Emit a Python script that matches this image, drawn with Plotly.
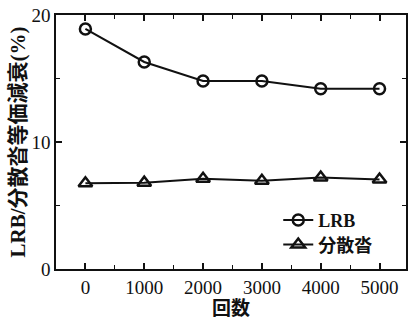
import plotly.graph_objects as go

cycles = [0, 1000, 2000, 3000, 4000, 5000]
lrb = [18.9, 16.3, 14.8, 14.8, 14.2, 14.2]
bunsan = [6.75, 6.8, 7.1, 6.95, 7.2, 7.05]
x_ticks = [0, 1000, 2000, 3000, 4000, 5000]
y_ticks = [0, 10, 20]

serif = "Liberation Serif, Times New Roman, serif"
cjk = "Noto Sans CJK JP, Liberation Serif, serif"
ser_span = "<span style='font-family:Liberation Serif'>{}</span>"

fig = go.Figure()
fig.add_trace(go.Scatter(
    x=cycles, y=lrb, name="<b>" + ser_span.format("LRB") + "</b>", mode="lines+markers",
    line=dict(color="#111111", width=2), legend="legend",
    marker=dict(symbol="circle-open", size=11, color="#111111", line=dict(width=2.5)),
))
fig.add_trace(go.Scatter(
    x=cycles, y=bunsan, name="<b>分散沓</b>", mode="lines+markers",
    line=dict(color="#111111", width=2), legend="legend2",
    marker=dict(symbol="triangle-up-open", size=12, color="#111111", line=dict(width=2.5)),
))

axis_common = dict(
    showline=True, linecolor="#111111", linewidth=1.5, mirror="ticks",
    ticks="inside", tickcolor="#111111", ticklen=6, tickwidth=1.5,
    showgrid=False, zeroline=False, automargin=False,
    tickfont=dict(family=serif, size=19, color="#111111"),
)

fig.update_xaxes(
    range=[-500, 5450], tickvals=x_ticks, ticktext=[str(v) for v in x_ticks],
    minor=dict(dtick=500, ticks="inside", ticklen=4, tickcolor="#111111", tickwidth=1.2),
    title=dict(text="<b>回数</b>", font=dict(family=cjk, size=19, color="#111111"), standoff=5),
    **axis_common,
)
fig.update_yaxes(
    range=[0, 20], tickvals=y_ticks, ticktext=[str(v) for v in y_ticks],
    minor=dict(dtick=5, ticks="inside", ticklen=4, tickcolor="#111111", tickwidth=1.2),
    title=dict(text="<b>" + ser_span.format("LRB/") + "分散沓等価減衰" + ser_span.format("(%)") + "</b>",
               font=dict(family=cjk, size=21, color="#111111"), standoff=0),
    ticklabelstandoff=0,
    **axis_common,
)

leg_common = dict(
    xanchor="left", yanchor="middle",
    bgcolor="rgba(0,0,0,0)", borderwidth=0,
    font=dict(family=cjk, size=18, color="#111111"),
    itemwidth=30,
)

fig.update_layout(
    width=408, height=320,
    margin=dict(l=56, r=2, t=15, b=51, autoexpand=False),
    paper_bgcolor="white", plot_bgcolor="white",
    showlegend=True,
    legend=dict(x=0.635, y=0.192, **leg_common),
    legend2=dict(x=0.635, y=0.095, **leg_common),
)

fig.write_html(
    "out.html",
    config={"displayModeBar": False},
    post_script="document.body.style.margin='0';document.body.style.overflow='hidden';",
)
